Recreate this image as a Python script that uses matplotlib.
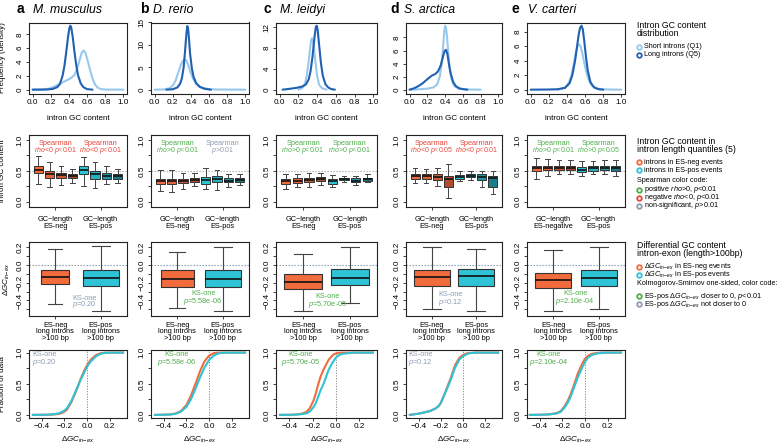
import matplotlib
matplotlib.use("Agg")
import matplotlib.pyplot as plt

plt.rcParams['font.family'] = ['Liberation Sans', 'DejaVu Sans']
plt.rcParams['mathtext.fontset'] = 'custom'
plt.rcParams['mathtext.rm'] = 'Liberation Sans'
plt.rcParams['mathtext.it'] = 'Liberation Sans:italic'
plt.rcParams['mathtext.bf'] = 'Liberation Sans:bold'

# ---------------- data ----------------
letters = ["a", "b", "c", "d", "e"]
species = ["M. musculus", "D. rerio", "M. leidyi", "S. arctica", "V. carteri"]

# Row 1: density of intron GC content
short_x = [
    [0.0, 0.1, 0.18, 0.24, 0.3, 0.36, 0.42, 0.46, 0.49, 0.52, 0.54, 0.56, 0.58, 0.6, 0.63, 0.66, 0.69, 0.72, 0.76, 0.82, 1.0],
    [0.0, 0.1, 0.16, 0.2, 0.23, 0.26, 0.29, 0.31, 0.33, 0.35, 0.37, 0.39, 0.42, 0.45, 0.49, 0.55, 0.62, 0.7, 1.0],
    [0.2, 0.24, 0.27, 0.29, 0.31, 0.325, 0.335, 0.345, 0.355, 0.365, 0.38, 0.4, 0.42, 0.45, 0.5],
    [0.0, 0.1, 0.2, 0.27, 0.31, 0.34, 0.36, 0.375, 0.39, 0.40, 0.41, 0.42, 0.435, 0.45, 0.47, 0.5, 0.55, 0.62, 0.7, 0.8],
    [0.3, 0.38, 0.42, 0.45, 0.48, 0.5, 0.52, 0.535, 0.55, 0.57, 0.59, 0.61, 0.64, 0.68, 0.73, 0.8, 0.9, 1.0],
]
short_y = [
    [0, 0.02, 0.15, 0.45, 0.85, 1.25, 1.65, 2.1, 3.0, 4.4, 5.3, 5.65, 5.4, 4.5, 3.0, 1.6, 0.7, 0.25, 0.06, 0.01, 0],
    [0, 0.05, 0.3, 0.9, 2.0, 3.8, 5.6, 6.4, 6.8, 6.5, 5.5, 4.2, 2.6, 1.5, 0.7, 0.3, 0.1, 0.03, 0],
    [0, 0.3, 1.2, 2.8, 5.5, 8.0, 9.4, 9.9, 9.5, 8.2, 5.6, 2.6, 1.0, 0.3, 0],
    [0, 0.05, 0.15, 0.35, 0.8, 2.0, 3.8, 6.2, 8.8, 9.8, 9.5, 8.3, 5.8, 3.5, 1.7, 0.6, 0.15, 0.05, 0.02, 0],
    [0, 0.3, 0.9, 2.0, 3.8, 5.2, 6.1, 6.25, 6.0, 5.0, 3.8, 2.6, 1.3, 0.5, 0.15, 0.05, 0.01, 0],
]
long_x = [
    [0.0, 0.15, 0.22, 0.27, 0.3, 0.33, 0.35, 0.37, 0.39, 0.405, 0.415, 0.425, 0.44, 0.46, 0.48, 0.5, 0.53, 0.56, 0.6, 0.66],
    [0.13, 0.2, 0.25, 0.28, 0.3, 0.32, 0.335, 0.35, 0.36, 0.37, 0.38, 0.39, 0.41, 0.43, 0.46, 0.5, 0.55, 0.62],
    [0.03, 0.1, 0.18, 0.24, 0.28, 0.31, 0.33, 0.35, 0.37, 0.385, 0.395, 0.405, 0.42, 0.44, 0.46, 0.49, 0.52, 0.55, 0.59],
    [0.0, 0.05, 0.1, 0.15, 0.2, 0.25, 0.29, 0.32, 0.35, 0.375, 0.395, 0.41, 0.425, 0.44, 0.46, 0.49, 0.52, 0.56, 0.6, 0.65],
    [0.0, 0.2, 0.3, 0.38, 0.43, 0.46, 0.49, 0.51, 0.53, 0.545, 0.56, 0.575, 0.59, 0.61, 0.63, 0.66, 0.7, 0.75, 0.8],
]
long_y = [
    [0, 0.02, 0.1, 0.35, 0.8, 2.0, 3.4, 5.4, 7.6, 8.9, 9.25, 9.0, 7.8, 5.6, 3.6, 2.1, 0.9, 0.35, 0.08, 0],
    [0, 0.1, 0.5, 1.3, 2.5, 5.0, 8.5, 12.5, 14.2, 13.5, 11, 8.2, 4.8, 2.8, 1.4, 0.6, 0.2, 0],
    [0, 0.15, 0.35, 0.6, 1.0, 2.0, 3.6, 6.3, 9.8, 12.0, 12.3, 11.6, 8.8, 5.2, 2.7, 1.0, 0.4, 0.12, 0],
    [0, 0.2, 0.55, 1.0, 1.6, 2.15, 2.4, 2.8, 3.7, 5.0, 5.95, 6.1, 5.5, 4.2, 2.6, 1.2, 0.55, 0.2, 0.08, 0],
    [0, 0.02, 0.06, 0.25, 0.9, 2.0, 4.0, 5.8, 7.6, 8.5, 8.8, 8.3, 6.8, 4.5, 2.6, 1.0, 0.3, 0.06, 0],
]
dens_yticks = [[0, 2, 4, 6, 8], [0, 5, 10, 15], [0, 4, 8, 12], [0, 2, 4, 6, 8], [0, 2, 4, 6, 8]]

# Row 2: intron GC content per length quantile (lo, q1, med, q3, hi), 4 ES-neg then 4 ES-pos
gc_quant = [
    [(0.28, 0.46, 0.52, 0.57, 0.74), (0.23, 0.38, 0.45, 0.49, 0.65), (0.27, 0.39, 0.43, 0.46, 0.58), (0.30, 0.38, 0.41, 0.44, 0.53),
     (0.26, 0.44, 0.51, 0.58, 0.73), (0.22, 0.37, 0.44, 0.50, 0.64), (0.28, 0.37, 0.42, 0.46, 0.58), (0.30, 0.37, 0.41, 0.44, 0.53)],
    [(0.17, 0.29, 0.34, 0.37, 0.51), (0.16, 0.29, 0.34, 0.37, 0.51), (0.21, 0.30, 0.33, 0.37, 0.46), (0.25, 0.31, 0.35, 0.38, 0.47),
     (0.20, 0.29, 0.35, 0.40, 0.55), (0.18, 0.31, 0.36, 0.41, 0.51), (0.24, 0.31, 0.34, 0.38, 0.45), (0.27, 0.32, 0.35, 0.38, 0.45)],
    [(0.21, 0.29, 0.33, 0.37, 0.45), (0.23, 0.30, 0.34, 0.38, 0.45), (0.24, 0.31, 0.35, 0.39, 0.46), (0.27, 0.33, 0.37, 0.40, 0.46),
     (0.23, 0.29, 0.33, 0.37, 0.43), (0.32, 0.35, 0.37, 0.38, 0.42), (0.27, 0.31, 0.34, 0.38, 0.42), (0.31, 0.34, 0.37, 0.39, 0.44)],
    [(0.30, 0.37, 0.41, 0.45, 0.54), (0.30, 0.37, 0.41, 0.44, 0.53), (0.26, 0.35, 0.40, 0.44, 0.54), (0.06, 0.24, 0.37, 0.41, 0.61),
     (0.33, 0.37, 0.40, 0.43, 0.49), (0.35, 0.40, 0.42, 0.44, 0.50), (0.24, 0.35, 0.40, 0.44, 0.50), (0.12, 0.23, 0.39, 0.42, 0.50)],
    [(0.37, 0.49, 0.54, 0.57, 0.70), (0.42, 0.51, 0.55, 0.58, 0.69), (0.44, 0.51, 0.55, 0.58, 0.68), (0.44, 0.51, 0.54, 0.57, 0.67),
     (0.42, 0.48, 0.52, 0.56, 0.66), (0.44, 0.50, 0.55, 0.58, 0.66), (0.44, 0.51, 0.55, 0.58, 0.67), (0.41, 0.50, 0.54, 0.57, 0.68)],
]
gc_group_labels = [["GC~length\nES-neg", "GC~length\nES-pos"]] * 4 + [["GC~length\nES-negative", "GC~length\nES-pos"]]
spear_text = [["$rho$<0 $p$<0.01", "$rho$<0 $p$<0.01"],
              ["$rho$>0 $p$<0.01", "$p$>0.01"],
              ["$rho$>0 $p$<0.01", "$rho$>0 $p$<0.01"],
              ["$rho$<0 $p$<0.05", "$rho$<0 $p$<0.01"],
              ["$rho$>0 $p$<0.01", "$rho$>0 $p$<0.05"]]
spear_kind = [["neg", "neg"], ["pos", "ns"], ["pos", "pos"], ["neg", "neg"], ["pos", "pos"]]

# Row 3: delta GC intron-exon boxplots (lo, q1, med, q3, hi) for ES-neg, ES-pos
dgc_box = [
    [(-0.44, -0.218, -0.136, -0.06, 0.177), (-0.52, -0.237, -0.143, -0.06, 0.215)],
    [(-0.48, -0.25, -0.155, -0.06, 0.15), (-0.52, -0.25, -0.16, -0.06, 0.20)],
    [(-0.52, -0.275, -0.192, -0.105, 0.128), (-0.426, -0.23, -0.15, -0.049, 0.20)],
    [(-0.50, -0.237, -0.136, -0.06, 0.20), (-0.52, -0.237, -0.124, -0.05, 0.177)],
    [(-0.52, -0.256, -0.173, -0.087, 0.166), (-0.50, -0.237, -0.143, -0.06, 0.20)],
]
dgc_box_widths = [[0.62, 0.8], [0.72, 0.8], [0.8, 0.8], [0.8, 0.8], [0.8, 0.8]]
ks_p = ["0.20", "5.58e-06", "5.70e-05", "0.12", "2.10e-04"]
ks_sig = [False, True, True, False, True]
dgc_labels = ["ES-neg\nlong introns\n>100 bp", "ES-pos\nlong introns\n>100 bp"]

# Row 4: cumulative distributions
cdf_x = [
    [-0.48, -0.35, -0.3, -0.25, -0.21, -0.18, -0.14, -0.10, -0.06, -0.02, 0.01, 0.04, 0.08, 0.12, 0.16, 0.22, 0.32],
    [-0.48, -0.35, -0.3, -0.25, -0.2, -0.16, -0.12, -0.08, -0.04, 0.0, 0.04, 0.08, 0.12, 0.2, 0.32],
    [-0.48, -0.38, -0.33, -0.29, -0.25, -0.22, -0.19, -0.17, -0.15, -0.13, -0.105, -0.08, -0.06, -0.04, -0.02, 0.0, 0.03, 0.06, 0.1, 0.15, 0.32],
    [-0.48, -0.4, -0.3, -0.25, -0.22, -0.2, -0.16, -0.11, -0.07, -0.03, 0.0, 0.03, 0.06, 0.12, 0.32],
    [-0.49, -0.4, -0.31, -0.25, -0.215, -0.185, -0.155, -0.13, -0.11, -0.085, -0.065, -0.04, -0.02, 0.0, 0.027, 0.06, 0.09, 0.14, 0.2, 0.32],
]
cdf_neg = [
    [0, 0.002, 0.006, 0.015, 0.04, 0.08, 0.2, 0.37, 0.56, 0.73, 0.83, 0.9, 0.96, 0.99, 1.0, 1.0, 1.0],
    [0, 0.006, 0.02, 0.06, 0.16, 0.31, 0.5, 0.7, 0.86, 0.95, 0.99, 1.0, 1.0, 1.0, 1.0],
    [0, 0.002, 0.008, 0.02, 0.05, 0.12, 0.24, 0.36, 0.5, 0.62, 0.73, 0.82, 0.89, 0.93, 0.97, 0.985, 0.997, 1.0, 1.0, 1.0, 1.0],
    [0, 0.02, 0.06, 0.1, 0.14, 0.19, 0.36, 0.59, 0.8, 0.92, 0.96, 0.985, 0.995, 1.0, 1.0],
    [0, 0.002, 0.01, 0.03, 0.06, 0.13, 0.22, 0.32, 0.42, 0.55, 0.66, 0.76, 0.84, 0.9, 0.95, 0.98, 0.99, 1.0, 1.0, 1.0],
]
cdf_pos = [
    [0, 0.003, 0.01, 0.025, 0.06, 0.1, 0.22, 0.38, 0.55, 0.7, 0.8, 0.87, 0.94, 0.98, 0.995, 1.0, 1.0],
    [0, 0.005, 0.015, 0.05, 0.13, 0.25, 0.42, 0.6, 0.76, 0.88, 0.95, 0.985, 0.997, 1.0, 1.0],
    [0, 0.002, 0.006, 0.012, 0.025, 0.06, 0.13, 0.2, 0.3, 0.4, 0.5, 0.63, 0.73, 0.8, 0.86, 0.92, 0.96, 0.98, 0.99, 1.0, 1.0],
    [0, 0.02, 0.06, 0.1, 0.14, 0.19, 0.35, 0.56, 0.76, 0.89, 0.94, 0.97, 0.99, 1.0, 1.0],
    [0, 0.002, 0.008, 0.025, 0.05, 0.11, 0.19, 0.28, 0.38, 0.5, 0.6, 0.7, 0.78, 0.85, 0.92, 0.96, 0.98, 0.995, 1.0, 1.0],
]
ks_text_x = [0.155, 0.26, 0.24, 0.15, 0.22]
ks_box_text_x = [1.65, 1.57, 1.53, 1.42, 1.48]
ks_box_text_y = [(-0.373, -0.44), (-0.32, -0.41), (-0.36, -0.44), (-0.33, -0.42), (-0.32, -0.41)]

# ---------------- styles ----------------
C_SHORT = "#98C8EC"
C_LONG = "#2161B2"
C_NEG = "#F26B3D"
C_POS = "#2EC3D6"
NEG_SHADES = ["#F26B3D", "#E3643A", "#CC5A34", "#B04E2D"]
POS_SHADES = ["#2CC3D7", "#27AEC1", "#2196A7", "#1B7D8B"]
C_GREEN = "#4FAE4C"
C_RED = "#E8473C"
C_GREY = "#8C9DB3"
kind_color = {"pos": C_GREEN, "neg": C_RED, "ns": C_GREY}

W, H = 778, 445
fig = plt.figure(figsize=(W / 100, H / 100), dpi=100)

col_left = [29, 151, 276, 406, 527]
col_w = [98, 98, 101, 96, 98]
rows = [(22.5, 93.5), (135, 206.5), (242, 316), (349.5, 418)]

TICK_FS = 5.9
LAB_FS = 5.8
CAT_FS = 5.3


def make_ax(c, r):
    t, b = rows[r]
    ax = fig.add_axes([col_left[c] / W, 1 - b / H, col_w[c] / W, (b - t) / H])
    for s in ax.spines.values():
        s.set_linewidth(0.8)
        s.set_color("#222222")
    ax.tick_params(length=2.5, width=0.6, labelsize=TICK_FS, pad=1.2, color="#222222")
    return ax


def rot_y(ax):
    for lab in ax.get_yticklabels():
        lab.set_rotation(90)
        lab.set_va("center")


for i in range(5):
    # ---- row 1: density
    ax = make_ax(i, 0)
    ax.plot(short_x[i], short_y[i], color=C_SHORT, lw=1.5, solid_capstyle="round")
    ax.plot(long_x[i], long_y[i], color=C_LONG, lw=1.5, solid_capstyle="round")
    ymax = max(max(short_y[i]), max(long_y[i]))
    ax.set_ylim(-0.06 * ymax, 1.05 * ymax)
    ax.set_xlim(-0.04, 1.04)
    ax.set_xticks([0.0, 0.2, 0.4, 0.6, 0.8, 1.0])
    ax.set_xticklabels(["0.0", "0.2", "0.4", "0.6", "0.8", "1.0"])
    ax.set_yticks(dens_yticks[i])
    ax.set_yticklabels([str(v) for v in dens_yticks[i]])
    rot_y(ax)
    ax.set_xlabel("intron GC content", fontsize=LAB_FS)
    ax.xaxis.set_label_coords(0.5, -0.3)
    if i == 0:
        ax.set_ylabel("Frequency (density)", fontsize=LAB_FS)
        ax.yaxis.set_label_coords(-0.235, 0.5)

    # ---- row 2: GC per length quantile
    ax = make_ax(i, 1)
    stats = [dict(whislo=s[0], q1=s[1], med=s[2], q3=s[3], whishi=s[4], fliers=[]) for s in gc_quant[i]]
    ax.axhline(0.5, color="#AAAAAA", lw=0.8, ls=(0, (1.2, 1.5)), zorder=0)
    bp = ax.bxp(stats, positions=list(range(1, 9)), widths=0.8, patch_artist=True, showfliers=False,
                manage_ticks=False,
                boxprops=dict(edgecolor="#333333", lw=0.7),
                whiskerprops=dict(color="#444444", lw=0.7),
                capprops=dict(color="#444444", lw=0.7),
                medianprops=dict(color="#111111", lw=1.2))
    for k, patch in enumerate(bp["boxes"]):
        patch.set_facecolor((NEG_SHADES + POS_SHADES)[k])
    ax.set_xlim(0.18, 8.82)
    ax.set_ylim(-0.08, 1.08)
    ax.set_yticks([0, 0.25, 0.5, 0.75, 1.0])
    ax.set_yticklabels(["0.0", "", "0.5", "", "1.0"])
    rot_y(ax)
    ax.set_xticks([2.5, 6.5])
    ax.set_xticklabels(gc_group_labels[i], fontsize=CAT_FS, linespacing=1.0)
    ax.tick_params(axis="x", pad=4.5)
    for g, gx in enumerate([2.5, 6.5]):
        col = kind_color[spear_kind[i][g]]
        ax.text(gx, 0.94, "Spearman", ha="center", va="center", fontsize=CAT_FS, color=col)
        ax.text(gx, 0.83, spear_text[i][g], ha="center", va="center", fontsize=CAT_FS - 0.3, color=col)
    if i == 0:
        ax.set_ylabel("intron GC content", fontsize=LAB_FS)
        ax.yaxis.set_label_coords(-0.235, 0.5)

    # ---- row 3: delta GC boxplots
    ax = make_ax(i, 2)
    ax.axhline(0.0, color="#7F93B0", lw=0.8, ls=(0, (1.2, 1.5)), zorder=0)
    stats = [dict(whislo=s[0], q1=s[1], med=s[2], q3=s[3], whishi=s[4], fliers=[]) for s in dgc_box[i]]
    bp = ax.bxp(stats, positions=[1, 2], widths=dgc_box_widths[i], patch_artist=True, showfliers=False,
                manage_ticks=False,
                boxprops=dict(edgecolor="#333333", lw=0.8),
                whiskerprops=dict(color="#444444", lw=0.8),
                capprops=dict(color="#444444", lw=0.8),
                medianprops=dict(color="#111111", lw=1.2))
    bp["boxes"][0].set_facecolor(C_NEG)
    bp["boxes"][1].set_facecolor(C_POS)
    ax.set_xlim(0.42, 2.58)
    ax.set_ylim(-0.575, 0.26)
    ax.set_yticks([0.2, 0.1, 0.0, -0.1, -0.2, -0.3, -0.4, -0.5])
    ax.set_yticklabels(["0.2", "", "0.0", "", "\u22120.2", "", "\u22120.4", ""])
    rot_y(ax)
    ax.set_xticks([1, 2])
    ax.set_xticklabels(dgc_labels, fontsize=CAT_FS, linespacing=0.92)
    ax.tick_params(axis="x", pad=1.5)
    kc = C_GREEN if ks_sig[i] else C_GREY
    ax.text(ks_box_text_x[i], ks_box_text_y[i][0], "KS-one", ha="center", va="center", fontsize=CAT_FS, color=kc)
    ax.text(ks_box_text_x[i], ks_box_text_y[i][1], "$p$=" + ks_p[i], ha="center", va="center", fontsize=CAT_FS, color=kc)
    if i == 0:
        ax.set_ylabel(r"$\Delta GC_{in\!-\!ex}$", fontsize=LAB_FS)
        ax.yaxis.set_label_coords(-0.17, 0.5)

    # ---- row 4: cumulative distributions
    ax = make_ax(i, 3)
    ax.axvline(0.0, color="#888888", lw=0.7, ls=(0, (1.2, 1.5)), zorder=0)
    ax.plot(cdf_x[i], cdf_neg[i], color=C_NEG, lw=1.5)
    ax.plot(cdf_x[i], cdf_pos[i], color=C_POS, lw=1.5)
    ax.set_xlim(-0.515, 0.355)
    ax.set_ylim(-0.05, 1.05)
    ax.set_xticks([-0.4, -0.2, 0.0, 0.2])
    ax.set_xticklabels(["\u22120.4", "\u22120.2", "0.0", "0.2"])
    ax.set_yticks([0, 0.25, 0.5, 0.75, 1.0])
    ax.set_yticklabels(["0.0", "", "0.5", "", "1.0"])
    rot_y(ax)
    ax.text(ks_text_x[i], 0.92, "KS-one", transform=ax.transAxes, ha="center", va="center", fontsize=CAT_FS, color=kc)
    ax.text(ks_text_x[i], 0.81, "$p$=" + ks_p[i], transform=ax.transAxes, ha="center", va="center", fontsize=CAT_FS, color=kc)
    ax.set_xlabel(r"$\Delta GC_{in\!-\!ex}$", fontsize=LAB_FS)
    ax.xaxis.set_label_coords(0.5, -0.25)
    if i == 0:
        ax.set_ylabel("Fraction of data", fontsize=LAB_FS)
        ax.yaxis.set_label_coords(-0.235, 0.5)

# ---------------- overlay: titles and legends ----------------
ov = fig.add_axes([0, 0, 1, 1])
ov.set_xlim(0, W)
ov.set_ylim(H, 0)
ov.axis("off")

letter_x = [17, 140, 264, 390, 512]
name_x = [33, 153, 280, 404, 528]
for i in range(5):
    ov.text(letter_x[i], 12.7, letters[i], fontsize=10, fontweight="bold", ha="left", va="baseline")
    ov.text(name_x[i], 12.7, species[i], fontsize=8.8, style="italic", ha="left", va="baseline")

LX, MX, TX = 637, 639.5, 644
HEAD_FS, ENT_FS = 6.3, 5.2


def head(y, s):
    ov.text(LX, y, s, fontsize=HEAD_FS, ha="left", va="center")


def entry(y, s, color=None):
    if color is not None:
        ov.plot([MX], [y], marker="o", ms=3.3, mfc="none", mec=color, mew=1.3, ls="none")
        ov.text(TX, y, s, fontsize=ENT_FS, ha="left", va="center")
    else:
        ov.text(LX, y, s, fontsize=ENT_FS, ha="left", va="center")


head(25, "Intron GC content")
head(33, "distribution")
entry(47, "Short introns (Q1)", C_SHORT)
entry(55, "Long introns (Q5)", C_LONG)

head(141, "Intron GC content in")
head(149.5, "intron length quantiles (5)")
entry(162, "introns in ES-neg events", C_NEG)
entry(170, "introns in ES-pos events", C_POS)
entry(181, "Spearman color code:")
entry(189.5, "positive $rho$>0, $p$<0.01", C_GREEN)
entry(197.5, "negative $rho$<0, $p$<0.01", C_RED)
entry(205.5, "non-significant, $p$>0.01", C_GREY)

head(246, "Differential GC content")
head(254, "intron-exon (length>100bp)")
entry(267, r"$\Delta GC_{in\!-\!ex}$ in ES-neg events", C_NEG)
entry(274.5, r"$\Delta GC_{in\!-\!ex}$ in ES-pos events", C_POS)
entry(283.5, "Kolmogorov-Smirnov one-sided, color code:")
entry(296, r"ES-pos $\Delta GC_{in\!-\!ex}$ closer to 0, $p$<0.01", C_GREEN)
entry(304, r"ES-pos $\Delta GC_{in\!-\!ex}$ not closer to 0", C_GREY)

fig.savefig("out.png", dpi=100)
